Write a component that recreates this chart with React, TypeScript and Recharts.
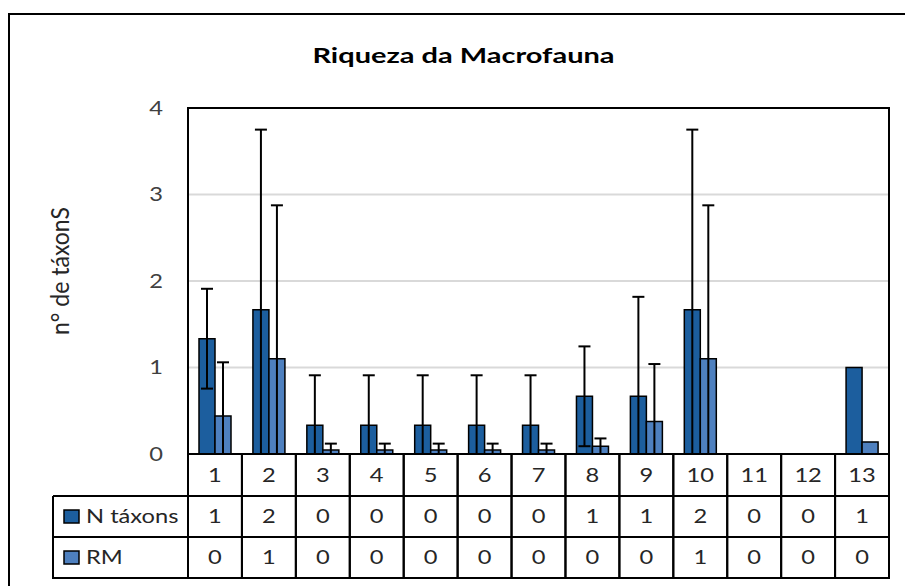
import React from 'react';
import { BarChart, Bar, XAxis, YAxis, CartesianGrid, ErrorBar, ReferenceArea } from 'recharts';

const categories = ['1', '2', '3', '4', '5', '6', '7', '8', '9', '10', '11', '12', '13'];
const nTaxons = [1.333, 1.667, 0.333, 0.333, 0.333, 0.333, 0.333, 0.667, 0.667, 1.667, 0, 0, 1.0];
const rmValues = [0.44, 1.1, 0.045, 0.045, 0.045, 0.045, 0.045, 0.09, 0.375, 1.1, 0, 0, 0.14];
const nErrLow = [0.577, 1.667, 0.333, 0.333, 0.333, 0.333, 0.333, 0.577, 0.667, 1.667, null, null, null];
const nErrHigh = [0.577, 2.083, 0.577, 0.577, 0.577, 0.577, 0.577, 0.577, 1.15, 2.083, null, null, null];
const rmErrLow = [0.44, 1.1, 0.045, 0.045, 0.045, 0.045, 0.045, 0.09, 0.375, 1.1, null, null, null];
const rmErrHigh = [0.62, 1.775, 0.075, 0.075, 0.075, 0.075, 0.075, 0.09, 0.665, 1.775, null, null, null];
const nTableLabels = ['1', '2', '0', '0', '0', '0', '0', '1', '1', '2', '0', '0', '1'];
const rmTableLabels = ['0', '1', '0', '0', '0', '0', '0', '0', '0', '1', '0', '0', '0'];
const yTicks = [0, 1, 2, 3, 4];
const seriesNames = ['N táxons', 'RM'];
const seriesColors = ['#1C5E9E', '#4E80BF'];

const W = 905;
const H = 586;
const PLOT_L = 188;
const PLOT_T = 108;
const PLOT_R = 889;
const PLOT_B = 454;
const YAXIS_W = 30;
const XAXIS_H = 124;
const BAND = (PLOT_R - PLOT_L) / categories.length;
const ROW1 = 42;
const ROW2 = 83;
const ROW3 = 124;
const LEGEND_COL_W = 135;
const FONT = 'Lato, "Liberation Sans", sans-serif';
const TEXT = '#262626';
const FS = 18.5;
const SX = 1.28;

const data = categories.map((c, i) => ({
  cat: c,
  n: nTaxons[i],
  rm: rmValues[i],
  nErr: nErrHigh[i] == null ? null : [nErrLow[i], nErrHigh[i]],
  rmErr: rmErrHigh[i] == null ? null : [rmErrLow[i], rmErrHigh[i]],
}));

const SText = (p: { x: number; y: number; anchor?: 'start' | 'middle' | 'end'; fill?: string; children: React.ReactNode }) => (
  <text
    transform={`translate(${p.x} ${p.y}) scale(${SX} 1)`}
    x={0}
    y={0}
    textAnchor={p.anchor || 'middle'}
    dominantBaseline="central"
    fontFamily={FONT}
    fontSize={FS}
    fill={p.fill || TEXT}
  >
    {p.children}
  </text>
);

const TableTick = (props: any) => {
  const { x, y, payload } = props;
  const i = categories.indexOf(String(payload.value));
  const l = x - BAND / 2;
  const r = x + BAND / 2;
  const lc = '#000';
  const sw = 2;
  const legendL = PLOT_L - LEGEND_COL_W;
  const c1 = y + ROW1 / 2;
  const c2 = y + (ROW1 + ROW2) / 2;
  const c3 = y + (ROW2 + ROW3) / 2;
  return (
    <g>
      <line x1={l} y1={y} x2={l} y2={y + ROW3} stroke={lc} strokeWidth={sw} />
      <line x1={r} y1={y} x2={r} y2={y + ROW3} stroke={lc} strokeWidth={sw} />
      <line x1={l} y1={y + ROW1} x2={r} y2={y + ROW1} stroke={lc} strokeWidth={sw} />
      <line x1={l} y1={y + ROW2} x2={r} y2={y + ROW2} stroke={lc} strokeWidth={sw} />
      <line x1={l - 1} y1={y + ROW3} x2={r + 1} y2={y + ROW3} stroke={lc} strokeWidth={sw} />
      <SText x={x} y={c1}>{payload.value}</SText>
      <SText x={x} y={c2}>{nTableLabels[i]}</SText>
      <SText x={x} y={c3}>{rmTableLabels[i]}</SText>
      {i === 0 && (
        <g>
          <line x1={legendL} y1={y + ROW1} x2={l} y2={y + ROW1} stroke={lc} strokeWidth={sw} />
          <line x1={legendL} y1={y + ROW2} x2={l} y2={y + ROW2} stroke={lc} strokeWidth={sw} />
          <line x1={legendL - 1} y1={y + ROW3} x2={l} y2={y + ROW3} stroke={lc} strokeWidth={sw} />
          <line x1={legendL} y1={y + ROW1} x2={legendL} y2={y + ROW3} stroke={lc} strokeWidth={sw} />
          {seriesNames.map((name, k) => {
            const cy = k === 0 ? c2 : c3;
            return (
              <g key={name}>
                <rect x={legendL + 11} y={cy - 6.5} width={15} height={13} fill={seriesColors[k]} stroke="#000" strokeWidth={1.5} />
                <SText x={legendL + 33} y={cy} anchor="start">{name}</SText>
              </g>
            );
          })}
        </g>
      )}
    </g>
  );
};

const YTick = (props: any) => {
  const { y, payload } = props;
  return (
    <SText x={PLOT_L - 25} y={y} anchor="end" fill="#404040">
      {payload.value}
    </SText>
  );
};

export default function App() {
  return (
    <div style={{ position: 'absolute', left: 0, top: 0, width: W, height: H, overflow: 'hidden', background: '#fff' }}>
      <div style={{ position: 'absolute', left: 8, top: 13, width: 1000, height: 1000, border: '2.5px solid #000', boxSizing: 'border-box' }} />
      <div
        style={{
          position: 'absolute',
          left: 0,
          top: 42,
          width: 927,
          textAlign: 'center',
          fontFamily: FONT,
          fontWeight: 700,
          fontSize: 21,
          lineHeight: '25px',
          color: '#000',
          transform: 'scaleX(1.38)',
          transformOrigin: '463.5px 50%',
        }}
      >
        Riqueza da Macrofauna
      </div>
      <div
        style={{
          position: 'absolute',
          left: 60,
          top: 271,
          transform: 'translate(-50%, -50%) rotate(-90deg) scaleY(1.05)',
          whiteSpace: 'nowrap',
          fontFamily: FONT,
          fontSize: 23,
          lineHeight: '27px',
          color: TEXT,
        }}
      >
        n° de táxonS
      </div>
      <div style={{ position: 'absolute', left: 0, top: 0 }}>
        <BarChart
          width={W}
          height={H}
          data={data}
          margin={{ top: PLOT_T, right: W - PLOT_R, left: PLOT_L - YAXIS_W, bottom: H - PLOT_B - XAXIS_H }}
          barGap={0}
          barSize={16}
        >
          <CartesianGrid vertical={false} stroke="#D9D9D9" strokeWidth={2} />
          <XAxis
            dataKey="cat"
            height={XAXIS_H}
            interval={0}
            tickLine={false}
            tickSize={0}
            tickMargin={0}
            axisLine={{ stroke: '#000', strokeWidth: 2 }}
            tick={<TableTick />}
          />
          <YAxis
            width={YAXIS_W}
            domain={[0, 4]}
            ticks={yTicks}
            tickLine={false}
            axisLine={{ stroke: '#000', strokeWidth: 2 }}
            tick={<YTick />}
          />
          <ReferenceArea
            x1={categories[0]}
            x2={categories[categories.length - 1]}
            y1={0}
            y2={4}
            fill="none"
            fillOpacity={0}
            stroke="#000"
            strokeWidth={2}
            ifOverflow="visible"
          />
          <Bar dataKey="n" name={seriesNames[0]} fill={seriesColors[0]} stroke="#000" strokeWidth={1.5} isAnimationActive={false}>
            <ErrorBar dataKey="nErr" width={6} stroke="#000" strokeWidth={2} direction="y" isAnimationActive={false} />
          </Bar>
          <Bar dataKey="rm" name={seriesNames[1]} fill={seriesColors[1]} stroke="#000" strokeWidth={1.5} isAnimationActive={false}>
            <ErrorBar dataKey="rmErr" width={6} stroke="#000" strokeWidth={2} direction="y" isAnimationActive={false} />
          </Bar>
        </BarChart>
      </div>
    </div>
  );
}
